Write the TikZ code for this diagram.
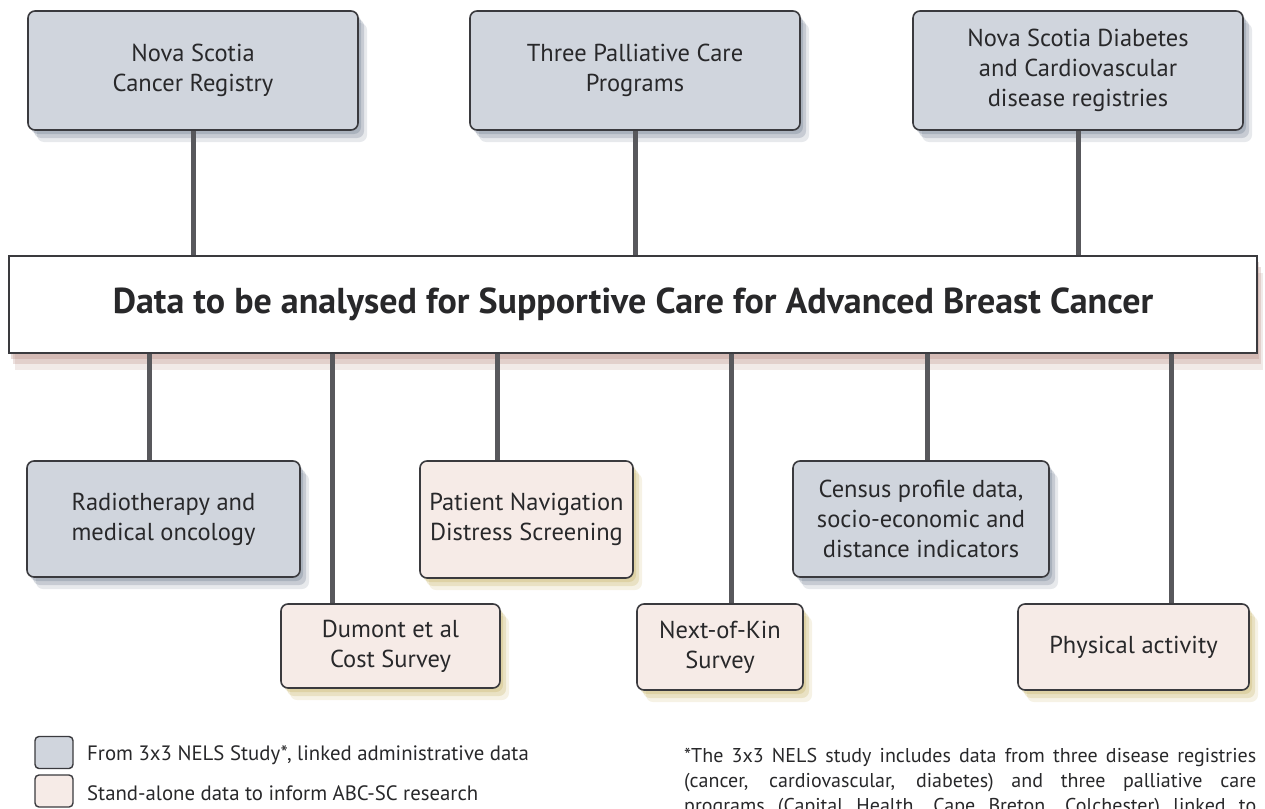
\documentclass[tikz,border=0pt]{standalone}
\usepackage{fontspec}
\setmainfont{PT Sans}
\usetikzlibrary{shadows}

\definecolor{regfill}{RGB}{208,213,221}
\definecolor{solofill}{RGB}{246,235,231}
\definecolor{boxline}{RGB}{58,58,62}
\definecolor{linkgrey}{RGB}{88,88,92}
\definecolor{boxtext}{RGB}{40,40,42}
\definecolor{regshadow}{RGB}{105,118,138}
\definecolor{soloshadow}{RGB}{196,176,96}
\definecolor{mainshadow}{RGB}{180,136,126}

\tikzset{
  databox/.style={draw=boxline, line width=1.6pt, rounded corners=7pt, align=center,
    text=boxtext, inner sep=0pt, font=\fontsize{24.5}{30}\selectfont},
  softshadow/.style={
    general shadow={draw=none, fill=#1, opacity=0.16, shadow xshift=9pt, shadow yshift=-12pt},
    general shadow={draw=none, fill=#1, opacity=0.26, shadow xshift=6pt, shadow yshift=-8pt},
    general shadow={draw=none, fill=#1, opacity=0.30, shadow xshift=3pt, shadow yshift=-4pt}},
  regbox/.style={databox, fill=regfill, softshadow=regshadow},
  solobox/.style={databox, fill=solofill, softshadow=soloshadow},
  mainbox/.style={draw=boxline, line width=1.6pt, fill=white, text=boxtext, inner sep=0pt,
    font=\fontsize{36}{40}\selectfont\bfseries,
    general shadow={draw=none, fill=mainshadow, opacity=0.18, shadow xshift=6pt, shadow yshift=-17pt},
    general shadow={draw=none, fill=mainshadow, opacity=0.26, shadow xshift=4pt, shadow yshift=-11pt},
    general shadow={draw=none, fill=mainshadow, opacity=0.30, shadow xshift=2pt, shadow yshift=-6pt}},
  keybox/.style={draw=boxline, line width=1.4pt, rounded corners=4pt,
    minimum width=38pt, minimum height=32pt, inner sep=0pt},
  keytext/.style={anchor=base west, inner sep=0pt, text=boxtext, font=\fontsize{20.8}{24}\selectfont},
  link/.style={draw=linkgrey, line width=5pt}
}

\begin{document}
\begin{tikzpicture}[x=1pt,y=-1pt]
\useasboundingbox (0,0) rectangle (1265,808);

%Top sources
\node [regbox, minimum width=330pt, minimum height=119pt] (ncr) at (193,70.5) {Nova Scotia\\Cancer Registry};
\node [regbox, minimum width=330pt, minimum height=119pt] (palc) at (635,70.5) {Three Palliative Care\\Programs};
\node [regbox, minimum width=330pt, minimum height=119pt] (cvd) at (1078,70.5) {Nova Scotia Diabetes\\and Cardiovascular\\disease registries};

%Central box
\node [mainbox, minimum width=1248pt, minimum height=97pt] (main) at (633,304.5) {Data to be analysed for Supportive Care for Advanced Breast Cancer};

%Lower sources
\node [regbox, minimum width=273pt, minimum height=116pt] (radio) at (163.5,519) {Radiotherapy and\\medical oncology};
\node [solobox, minimum width=213pt, minimum height=117pt] (pnav) at (526.5,519.5) {Patient Navigation\\Distress Screening};
\node [regbox, minimum width=256pt, minimum height=116pt] (census) at (921,519) {Census profile data,\\socio-economic and\\distance indicators};
\node [solobox, minimum width=219pt, minimum height=84pt] (dumont) at (390.5,646) {Dumont et al\\Cost Survey};
\node [solobox, minimum width=166pt, minimum height=86pt] (nok) at (720,647) {Next-of-Kin\\Survey};
\node [solobox, minimum width=231pt, minimum height=86pt] (phys) at (1133.5,647) {Physical activity};

%Connectors
\foreach \src in {ncr,palc,cvd}
  \draw [link] (\src.south) -- (\src.south |- main.north);
\foreach \tx/\dst in {149/radio,332/dumont,497/pnav,731/nok,927/census,1171/phys}{
  \coordinate (tap) at (\tx,0);
  \draw [link] (main.south -| tap) -- (\dst.north -| tap);
}

%Legend
\node [keybox, fill=regfill] (keyreg) at (54,752.5) {};
\node [keybox, fill=solofill] (keysolo) at (54,791) {};
\node [keytext] (keyregtxt) at (87,760) {From 3x3 NELS Study*, linked administrative data};
\node [keytext] (keysolotxt) at (87,800) {Stand-alone data to inform ABC-SC research};

% Text Node
\node [anchor=base west, inner sep=0pt, text=boxtext] (note) at (684,762) {\parbox[t]{572pt}{\fontsize{20}{25}\selectfont\parfillskip=0pt
*The 3x3 NELS study includes data from three disease registries\linebreak
(cancer, cardiovascular, diabetes) and three palliative care\linebreak
programs (Capital Health, Cape Breton, Colchester) linked to}};

\end{tikzpicture}
\end{document}
